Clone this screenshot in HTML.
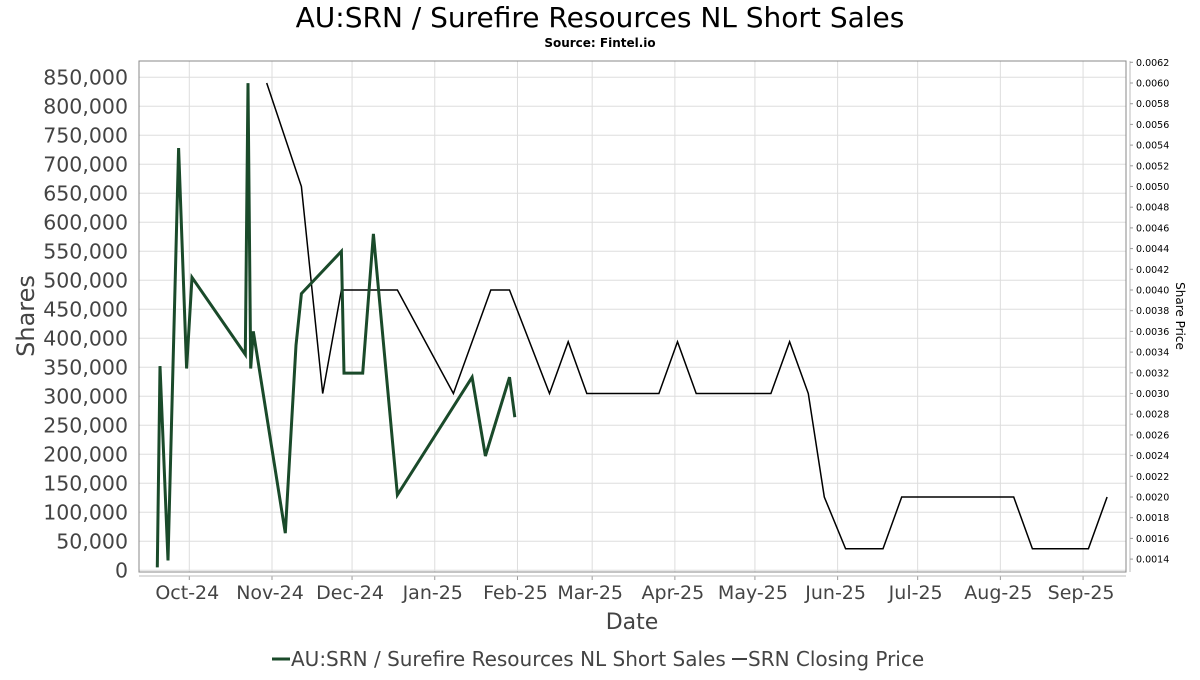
<!DOCTYPE html>
<html><head><meta charset="utf-8"><style>
body{margin:0;background:#fff;}
svg text{font-family:"DejaVu Sans","Liberation Sans",sans-serif;}
</style></head><body>
<svg id="chart" width="1200" height="675" xmlns="http://www.w3.org/2000/svg">
<rect width="1200" height="675" fill="#fff"/>
<text x="600" y="27" text-anchor="middle" font-size="28" fill="#000">AU:SRN / Surefire Resources NL Short Sales</text>
<text x="600" y="47" text-anchor="middle" font-size="12" font-weight="bold" fill="#000">Source: Fintel.io</text>
<g id="grid"></g>
<rect x="139" y="61" width="987" height="511" fill="none" stroke="#888" stroke-width="1"/>
<g id="axes"></g>
<g id="series"></g>
<text transform="translate(34,316) rotate(-90)" text-anchor="middle" font-size="24" fill="#444">Shares</text>
<text transform="translate(1176,316) rotate(90)" text-anchor="middle" font-size="12" fill="#000">Share Price</text>
<text x="632" y="629" text-anchor="middle" font-size="22" fill="#444">Date</text>
<g>
<line x1="272" y1="659" x2="290" y2="659" stroke="#1a4a2a" stroke-width="3"/>
<text x="291" y="666" font-size="20" fill="#444">AU:SRN / Surefire Resources NL Short Sales</text>
<line x1="732" y1="659" x2="747" y2="659" stroke="#000" stroke-width="1.5"/>
<text x="748" y="666" font-size="20" fill="#444">SRN Closing Price</text>
</g>
</svg>
<script>
const shortDates=["2024-09-19","2024-09-20","2024-09-23","2024-09-27","2024-09-30","2024-10-02","2024-10-22","2024-10-23","2024-10-24","2024-10-25","2024-11-06","2024-11-10","2024-11-12","2024-11-27","2024-11-28","2024-12-05","2024-12-09","2024-12-18","2025-01-15","2025-01-20","2025-01-29","2025-01-31"];
const shortValues=[5000,352000,17000,728000,348000,505000,372000,840000,348000,412000,64000,388000,477000,550000,340000,340000,580000,130000,333000,197000,333000,264000];
const priceDates=["2024-10-30","2024-11-12","2024-11-20","2024-11-27","2024-12-18","2025-01-08","2025-01-22","2025-01-29","2025-02-13","2025-02-20","2025-02-27","2025-03-26","2025-04-02","2025-04-09","2025-05-07","2025-05-14","2025-05-21","2025-05-27","2025-06-04","2025-06-18","2025-06-25","2025-08-06","2025-08-13","2025-09-03","2025-09-10"];
const priceValues=[0.0060,0.0050,0.0030,0.0040,0.0040,0.0030,0.0040,0.0040,0.0030,0.0035,0.0030,0.0030,0.0035,0.0030,0.0030,0.0035,0.0030,0.0020,0.0015,0.0015,0.0020,0.0020,0.0015,0.0015,0.0020];
const leftTicks=[0,50000,100000,150000,200000,250000,300000,350000,400000,450000,500000,550000,600000,650000,700000,750000,800000,850000];
const rightTicks=[0.0014,0.0016,0.0018,0.0020,0.0022,0.0024,0.0026,0.0028,0.0030,0.0032,0.0034,0.0036,0.0038,0.0040,0.0042,0.0044,0.0046,0.0048,0.0050,0.0052,0.0054,0.0056,0.0058,0.0060,0.0062];
const xTickDates=["2024-10-01","2024-11-01","2024-12-01","2025-01-01","2025-02-01","2025-03-01","2025-04-01","2025-05-01","2025-06-01","2025-07-01","2025-08-01","2025-09-01"];
const xTickLabels=["Oct-24","Nov-24","Dec-24","Jan-25","Feb-25","Mar-25","Apr-25","May-25","Jun-25","Jul-25","Aug-25","Sep-25"];

const NS="http://www.w3.org/2000/svg";
const t0=Date.UTC(2024,9,1);
function xScale(s){const p=s.split("-");const d=(Date.UTC(+p[0],+p[1]-1,+p[2])-t0)/86400000;return 189.3+d*2.668;}
function yLeft(v){return 570.3-v*(493/850000);}
function yRight(v){return 83+(0.0060-v)*(20.7/0.0002);}
function mk(tag,attrs,parent){const e=document.createElementNS(NS,tag);for(const k in attrs)e.setAttribute(k,attrs[k]);parent.appendChild(e);return e;}
const grid=document.getElementById("grid"),axes=document.getElementById("axes"),series=document.getElementById("series");
leftTicks.forEach((v,i)=>{const y=yLeft(v);
 const g=mk("line",{x1:139,x2:1126,y1:y,y2:y,stroke:"#ddd","stroke-width":1},grid);
 
 
 const t=mk("text",{x:128,y:y+7,"text-anchor":"end","font-size":20.5,fill:"#444"},axes);
 t.textContent=v.toLocaleString("en-US");
 
 
});
xTickDates.forEach((d,i)=>{const x=xScale(d);
 const g=mk("line",{x1:x,x2:x,y1:61,y2:572,stroke:"#ddd","stroke-width":1},grid);
 
 
 const tk=mk("line",{x1:x,x2:x,y1:576,y2:580,stroke:"#999"},axes);
 
 
 const t=mk("text",{x:x-2,y:599,"text-anchor":"middle","font-size":19,fill:"#444"},axes);
 t.textContent=xTickLabels[i];
 
 
});
const xl=mk("line",{x1:139,x2:1126,y1:576,y2:576,stroke:"#bbb"},axes);


const rl=mk("line",{x1:1130,x2:1130,y1:61,y2:572,stroke:"#bbb"},axes);


rightTicks.forEach(v=>{const y=yRight(v);
 const tk=mk("line",{x1:1130,x2:1133,y1:y,y2:y,stroke:"#999"},axes);
 
 
 const t=mk("text",{x:1136,y:y+3.5,"font-size":9.5,fill:"#000"},axes);
 t.textContent=v.toFixed(4);
 
 
});
const pricePts=priceDates.map((d,i)=>xScale(d).toFixed(1)+","+yRight(priceValues[i]).toFixed(1)).join(" ");
const pl=mk("polyline",{points:pricePts,fill:"none",stroke:"#000","stroke-width":1.5,"stroke-linejoin":"miter"},series);


const shortPts=shortDates.map((d,i)=>xScale(d).toFixed(1)+","+yLeft(shortValues[i]).toFixed(1)).join(" ");
const sl=mk("polyline",{points:shortPts,fill:"none",stroke:"#1a4a2a","stroke-width":3,"stroke-linejoin":"miter"},series);


</script>
</body></html>
